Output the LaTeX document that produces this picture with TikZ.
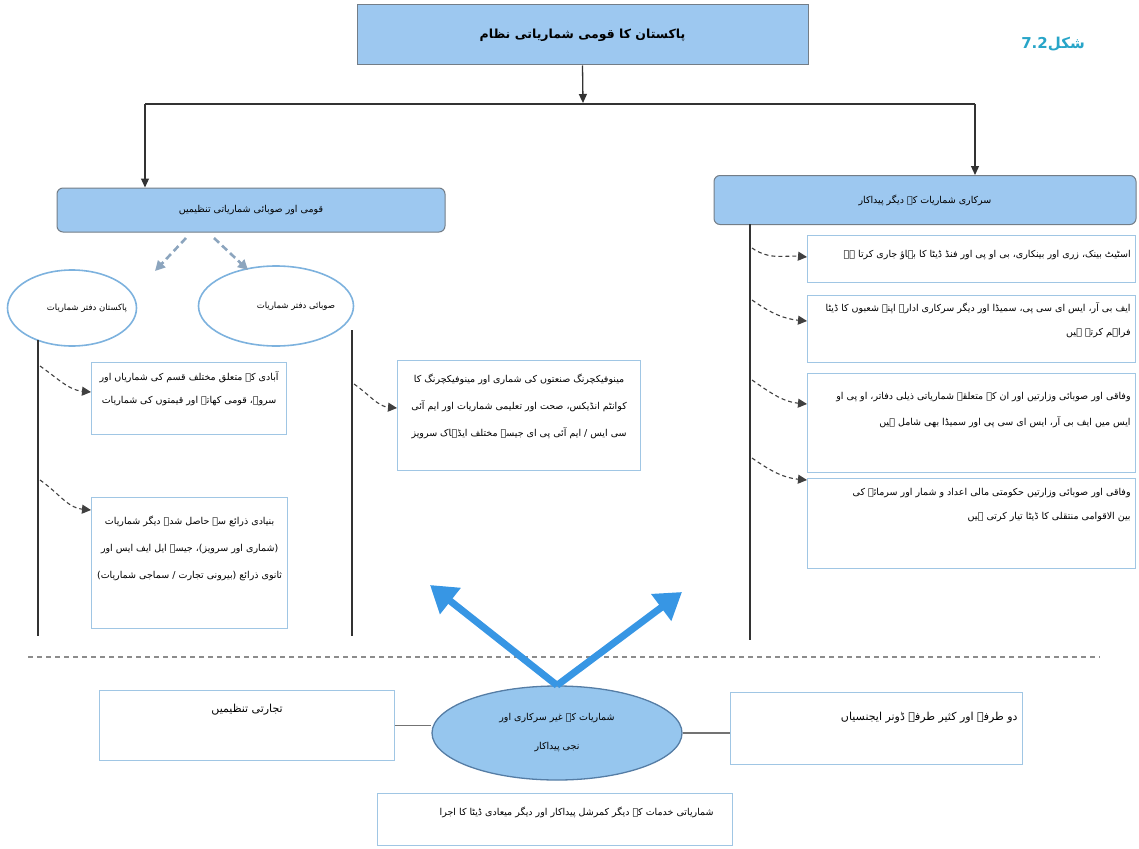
\documentclass[tikz,border=0pt]{standalone}
\usepackage{fontspec}
\TeXXeTstate=1
\newfontfamily\urdu[Script=Arabic]{DejaVu Sans}
\usetikzlibrary{arrows.meta,shapes.geometric}
\definecolor{hdrblue}{RGB}{157,200,240}
\definecolor{hdrborder}{RGB}{115,125,135}
\definecolor{boxborder}{RGB}{160,198,228}
\definecolor{ellborder}{RGB}{125,178,222}
\definecolor{bigarrow}{RGB}{55,150,228}
\definecolor{figlabel}{RGB}{40,165,200}
\definecolor{dashblue}{RGB}{140,165,190}
\definecolor{bellfill}{RGB}{150,198,238}
\definecolor{bellborder}{RGB}{85,125,165}
\newcommand{\ur}[1]{{\urdu\beginR #1\endR}}
% text box content: width, height, top pad, alignment, lines
\newcommand{\tbx}[5]{\parbox[c][#2][t]{#1}{\vspace*{#3}#4#5}}
\begin{document}
\begin{tikzpicture}[x=1pt,y=-1pt,
  hdr/.style={draw=hdrborder,fill=hdrblue,line width=1pt,rounded corners=6pt,inner sep=0pt},
  tb/.style={draw=boxborder,fill=white,line width=1.2pt,inner xsep=5pt,inner ysep=0pt},
  ell/.style={ellipse,draw=ellborder,fill=white,line width=1.6pt,inner sep=0pt},
  conn/.style={draw=black!80,line width=1.3pt},
  darr/.style={draw=black!80,line width=1.3pt,-{Triangle[length=9pt,width=8pt]}},
  bluedash/.style={draw=dashblue,line width=2.6pt,dash pattern=on 7pt off 4pt,-{Triangle[length=10pt,width=10pt]}},
  sdash/.style={draw=black!75,line width=1.1pt,dash pattern=on 4pt off 3pt,-{Triangle[length=9pt,width=9pt]}},
  big/.style={draw=bigarrow,line width=7pt,-{Triangle[length=26pt,width=32pt]}},
  fs/.style={font=\fontsize{9.5}{12}\selectfont}
]
\useasboundingbox (0,0) rectangle (1139,848);

% title
\node[draw=hdrborder,fill=hdrblue,line width=1pt,minimum width=451pt,minimum height=60pt,inner sep=0pt,
      font=\fontsize{12.5}{14}\selectfont\bfseries] (title) at (582.5,35) {\ur{پاکستان کا قومی شماریاتی نظام}};
\node[text=figlabel,font=\fontsize{15}{17}\selectfont\bfseries] (fig) at (1053,44)
   {\urdu\beginR شکل\beginL 7.2\endL\endR};

% headers
\node[hdr,minimum width=388pt,minimum height=44pt,font=\fontsize{9.5}{11}\selectfont] (lhdr) at (251,210) {\ur{قومی اور صوبائی شماریاتی تنظیمیں}};
\node[hdr,minimum width=422pt,minimum height=49pt,font=\fontsize{9.5}{11}\selectfont] (rhdr) at (925,200) {\ur{سرکاری شماریات کے دیگر پیداکار}};

% top connectors
\coordinate (hm) at (583,103);
\coordinate (hl) at (145,104);
\coordinate (hr) at (975,104);
\draw[darr] (title.south) -- (hm);
\draw[conn] (hl) -- (hr);
\draw[darr] (hl) -- (hl |- lhdr.north);
\draw[darr] (hr) -- (hr |- rhdr.north);

% ellipses
\node[ell,minimum width=129pt,minimum height=76pt,font=\fontsize{8.5}{10}\selectfont] (ellP) at (72,308) {\makebox[0pt]{\hspace*{30pt}\ur{پاکستان دفتر شماریات}}};
\node[ell,minimum width=155pt,minimum height=80pt,font=\fontsize{8.5}{10}\selectfont] (ellS) at (276,306) {\makebox[0pt]{\hspace*{40pt}\ur{صوبائی دفتر شماریات}}};

\coordinate (d1s) at (186,238);
\coordinate (d1e) at (155,271);
\coordinate (d2s) at (214,238);
\coordinate (d2e) at (248,270);
\draw[bluedash] (d1s) -- (d1e);
\draw[bluedash] (d2s) -- (d2e);

% vertical lines
\coordinate (v1t) at (38,340);
\coordinate (v1b) at (38,636);
\coordinate (v2t) at (352,330);
\coordinate (v2b) at (352,636);
\coordinate (v3t) at (750,224);
\coordinate (v3b) at (750,640);
\draw[conn] (v1t) -- (v1b);
\draw[conn] (v2t) -- (v2b);
\draw[conn] (v3t) -- (v3b);

% left boxes
\node[tb,anchor=north west,fs,inner xsep=3pt] (b1) at (91,362)
  {\tbx{189pt}{72pt}{9pt}{\centering\baselineskip=23pt}{\ur{آبادی کے متعلق مختلف قسم کی شماریاں اور}\\ \ur{سروے، قومی کھاتے اور قیمتوں کی شماریات}}};
\node[tb,anchor=north west,fs,inner xsep=3pt] (b2) at (91,497)
  {\tbx{190pt}{131pt}{18pt}{\centering\baselineskip=27pt}{\ur{بنیادی ذرائع سے حاصل شدہ دیگر شماریات}\\ \ur{(شماری اور سرویز)، جیسے ایل ایف ایس اور}\\ \ur{ثانوی ذرائع (بیرونی تجارت / سماجی شماریات)}}};
\node[tb,anchor=north west,fs] (b3) at (397,360)
  {\tbx{233pt}{110pt}{13pt}{\centering\baselineskip=27pt}{\ur{مینوفیکچرنگ صنعتوں کی شماری اور مینوفیکچرنگ کا}\\ \ur{کوانٹم انڈیکس، صحت اور تعلیمی شماریات اور ایم آئی}\\ \ur{سی ایس / ایم آئی پی ای جیسے مختلف ایڈہاک سرویز}}};

% right boxes
\node[tb,anchor=north west,fs] (r1) at (807,235)
  {\tbx{318pt}{47pt}{15pt}{\raggedleft}{\ur{اسٹیٹ بینک، زری اور بینکاری، بی او پی اور فنڈ ڈیٹا کا بہاؤ جاری کرتا ہے}}};
\node[tb,anchor=north west,fs] (r2) at (807,295)
  {\tbx{318pt}{67pt}{7pt}{\raggedleft\baselineskip=24pt}{\ur{ایف بی آر، ایس ای سی پی، سمیڈا اور دیگر سرکاری ادارے اپنے شعبوں کا ڈیٹا}\\ \ur{فراہم کرتے ہیں}}};
\node[tb,anchor=north west,fs] (r3) at (807,373)
  {\tbx{318pt}{99pt}{19pt}{\raggedleft\baselineskip=26pt}{\ur{وفاقی اور صوبائی وزارتیں اور ان کے متعلقہ شماریاتی ذیلی دفاتر، او پی او}\\ \ur{ایس میں ایف بی آر، ایس ای سی پی اور سمیڈا بھی شامل ہیں}}};
\node[tb,anchor=north west,fs] (r4) at (807,478)
  {\tbx{318pt}{90pt}{10pt}{\raggedleft\baselineskip=24pt}{\ur{وفاقی اور صوبائی وزارتیں حکومتی مالی اعداد و شمار اور سرمائے کی}\\ \ur{بین الاقوامی منتقلی کا ڈیٹا تیار کرتی ہیں}}};

% small dashed arrows
\coordinate (a1s) at (40,366);  \coordinate (a1e) at (91,392);
\coordinate (a2s) at (40,480);  \coordinate (a2e) at (91,510);
\coordinate (a3s) at (354,384); \coordinate (a3e) at (397,408);
\coordinate (a4s) at (752,248); \coordinate (a4e) at (807,257);
\coordinate (a5s) at (752,300); \coordinate (a5e) at (807,321);
\coordinate (a6s) at (752,380); \coordinate (a6e) at (807,404);
\coordinate (a7s) at (752,458); \coordinate (a7e) at (807,480);
\foreach \i in {1,...,7}{\draw[sdash] (a\i s) to[out=-35,in=175] (a\i e);}

% separator
\coordinate (sepl) at (28,657);
\coordinate (sepr) at (1100,657);
\draw[draw=black!45,line width=1.1pt,dash pattern=on 5pt off 4pt] (sepl) -- (sepr);

% bottom
\node[ellipse,draw=bellborder,fill=bellfill,line width=1.3pt,minimum width=250pt,minimum height=94pt,inner sep=0pt,
      align=center,font=\fontsize{9.5}{29}\selectfont] (be) at (557,733)
  {\ur{شماریات کے غیر سرکاری اور}\\ \ur{نجی پیداکار}};
\node[tb,anchor=north west,font=\fontsize{11}{13}\selectfont] (bl) at (99,690)
  {\tbx{285pt}{70pt}{14pt}{\centering}{\ur{تجارتی تنظیمیں}}};
\node[tb,anchor=north west,font=\fontsize{11}{13}\selectfont] (br) at (730,692)
  {\tbx{282pt}{72pt}{20pt}{\raggedleft}{\ur{دو طرفہ اور کثیر طرفہ ڈونر ایجنسیاں}}};
\node[tb,anchor=north west,fs] (bc) at (377,793)
  {\tbx{345pt}{52pt}{13pt}{\raggedleft}{\ur{شماریاتی خدمات کے دیگر کمرشل پیداکار اور دیگر میعادی ڈیٹا کا اجرا}\hspace*{14pt}}};

\draw[draw=black!55,line width=1.6pt] (bl.east) -- (bl.east -| be.west);
\draw[draw=black!55,line width=1.6pt] (be.east) -- (be.east -| br.west);

\coordinate (bigl) at (430,585);
\coordinate (bigr) at (682,592);
\draw[big] (be.north) -- (bigl);
\draw[big] (be.north) -- (bigr);
\end{tikzpicture}
\end{document}
